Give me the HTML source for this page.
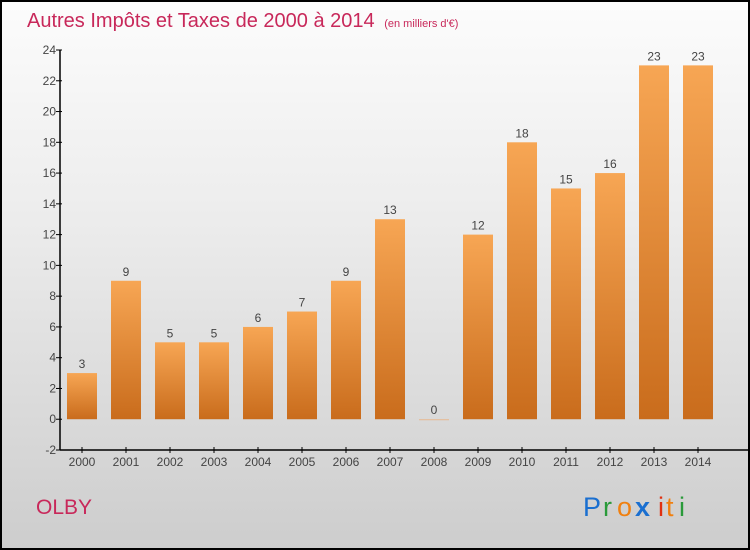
<!DOCTYPE html>
<html><head><meta charset="utf-8"><style>
html,body{margin:0;padding:0}
body{width:750px;height:550px;overflow:hidden;font-family:"Liberation Sans",sans-serif}
#frame{position:absolute;left:0;top:0;width:746px;height:546px;border:2px solid #000;background:linear-gradient(#fcfcfc,#ececec 40%,#cdcdcd)}
</style></head><body>
<div id="frame"></div>
<svg id="chart" width="750" height="550" style="position:absolute;left:0;top:0">
<defs><linearGradient id="bg" x1="0" y1="0" x2="0" y2="1"><stop offset="0" stop-color="#f7a654"/><stop offset="1" stop-color="#c96c1c"/></linearGradient></defs>
<text x="27" y="27" font-size="20" fill="#c8285a">Autres Impôts et Taxes de 2000 à 2014 <tspan font-size="11" dx="4">(en milliers d'€)</tspan></text>
<text x="36" y="514" font-size="21" fill="#c8285a">OLBY</text>
<g id="logo" font-size="27" font-family="'Liberation Sans',sans-serif">
<text x="583" y="516" fill="#1a6fd0">P</text><text x="603" y="516" fill="#2a9a3a">r</text><text x="617" y="516" fill="#f08010">o</text><text x="635" y="516" fill="#1a6fd0" font-weight="bold">x</text><text x="658" y="516" fill="#e03010">i</text><text x="666" y="516" fill="#f08010">t</text><text x="679" y="516" fill="#2a9a3a">i</text>
</g>
<g id="plot"></g>
</svg>
<script>
const years=["2000","2001","2002","2003","2004","2005","2006","2007","2008","2009","2010","2011","2012","2013","2014"];
const values=[3,9,5,5,6,7,9,13,0,12,18,15,16,23,23];
const yTicks=[-2,0,2,4,6,8,10,12,14,16,18,20,22,24];
const NS="http://www.w3.org/2000/svg";
const g=document.getElementById('plot');
const x0=60,x1=720,yTop=50,yBot=450,vMin=-2,vMax=24;
const y=v=>yBot-(v-vMin)*(yBot-yTop)/(vMax-vMin);
const step=(x1-x0)/years.length;
const xc=i=>x0+step*(i+0.5);
function mk(t,a){const e=document.createElementNS(NS,t);for(const k in a)e.setAttribute(k,a[k]);g.appendChild(e);return e;}
yTicks.forEach(v=>{
  const l=mk('line',{x1:x0-4,x2:x0+2,y1:y(v),y2:y(v),stroke:'#000'});
  
  
  const t=mk('text',{x:x0-4,y:y(v)+4,'text-anchor':'end','font-size':12,fill:'#444'});
  t.textContent=v;
  
  
});
years.forEach((yr,i)=>{
  const v=values[i];
  const top=y(Math.max(v,0)),h=Math.abs(y(v)-y(0));
  const r=mk('rect',{x:xc(i)-15,y:top,width:30,height:Math.max(h,1),fill:v===0?'#e8b890':'url(#bg)'});
  
  
  const lab=mk('text',{x:xc(i),y:top-5,'text-anchor':'middle','font-size':12,fill:'#444'});
  lab.textContent=v;
  
  
  const tk=mk('line',{x1:xc(i),x2:xc(i),y1:yBot-3,y2:yBot+3,stroke:'#000'});
  
  
  const xl=mk('text',{x:xc(i),y:yBot+16,'text-anchor':'middle','font-size':12,fill:'#444'});
  xl.textContent=yr;
  
  
});
const ya=mk('line',{x1:x0,x2:x0,y1:yTop,y2:yBot,stroke:'#000','stroke-width':1.5});


const xa=mk('line',{x1:x0,x2:x1+28,y1:yBot,y2:yBot,stroke:'#000','stroke-width':1.5});


</script>
</body></html>
